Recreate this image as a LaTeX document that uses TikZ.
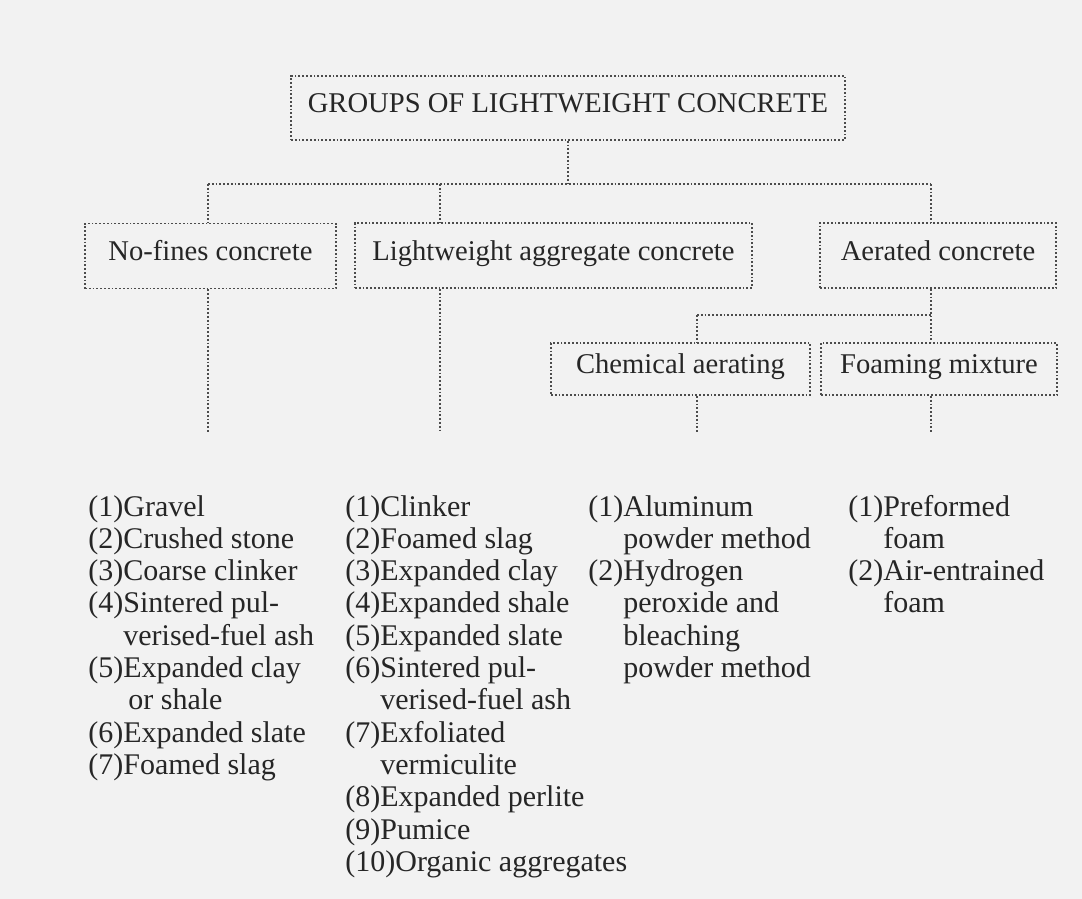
\documentclass[tikz,border=0pt]{standalone}
\usepackage{fontspec}
\setmainfont{Liberation Serif}
\usetikzlibrary{calc}

\begin{document}
\begin{tikzpicture}[x=0.5pt,y=-0.5pt,
        box/.style={draw=black!70,densely dotted,line width=0.9pt,inner sep=0pt,text=black!85,text height=0.7em,text depth=0.22em,font=\fontsize{14.3}{16}\selectfont},
        link/.style={draw=black!70,densely dotted,line width=0.9pt},
        items/.style={anchor=base west,align=left,inner sep=0pt,text=black!85,font=\fontsize{15}{16.15}\selectfont}]
        \useasboundingbox[fill=black!5] (0,0) rectangle (1082,899);

        % the boxes
        \node[box,minimum width=277pt,minimum height=32pt] (groups) at (568,108) {GROUPS OF LIGHTWEIGHT CONCRETE};
        \node[box,minimum width=125.5pt,minimum height=32.5pt] (nofines) at (210.5,256) {No-fines concrete};
        \node[box,minimum width=198.5pt,minimum height=32.5pt] (lwa) at (553.5,255.5) {Lightweight aggregate concrete};
        \node[box,minimum width=118pt,minimum height=32.5pt] (aerated) at (938,255.5) {Aerated concrete};
        \node[box,minimum width=129.5pt,minimum height=26pt] (chem) at (680.5,369) {Chemical aerating};
        \node[box,minimum width=118pt,minimum height=26pt] (foam) at (939,369) {Foaming mixture};

        % first level
        \coordinate (hub) at (568,184);
        \coordinate (busL) at (208,184);
        \coordinate (busM) at (440,184);
        \coordinate (busR) at (931,184);
        \path[link] (groups.south) edge (hub);
        \path[link] (busL) edge (busR);
        \path[link] (busL) edge (busL |- nofines.north);
        \path[link] (busM) edge (busM |- lwa.north);
        \path[link] (busR) edge (busR |- aerated.north);

        % aerated concrete
        \coordinate (subL) at (697,315);
        \path[link] (busR |- aerated.south) edge (busR |- foam.north);
        \path[link] (subL) edge (busR |- subL);
        \path[link] (subL) edge (subL |- chem.north);

        % loose ends
        \foreach \n/\x in {nofines/208,lwa/440,chem/697,foam/931}{
          \coordinate (\n-end) at (\x,433);
          \draw[link] (\n-end |- \n.south) -- (\n-end);
        }

        % the lists (base = last line, first line at y=516)
        \node[items] (list-nofines) at (88,774.4) {(1)Gravel\\(2)Crushed stone\\(3)Coarse clinker\\(4)Sintered pul-\\\phantom{(4)}verised-fuel ash\\(5)Expanded clay\\\phantom{(5)\,}or shale\\(6)Expanded slate\\(7)Foamed slag};
        \node[items] (list-lwa) at (345,871.3) {(1)Clinker\\(2)Foamed slag\\(3)Expanded clay\\(4)Expanded shale\\(5)Expanded slate\\(6)Sintered pul-\\\phantom{(6)}verised-fuel ash\\(7)Exfoliated\\\phantom{(7)}vermiculite\\(8)Expanded perlite\\(9)Pumice\\(10)Organic aggregates};
        \node[items] (list-chem) at (588,677.5) {(1)Aluminum\\\phantom{(1)}powder method\\(2)Hydrogen\\\phantom{(2)}peroxide and\\\phantom{(2)}bleaching\\\phantom{(2)}powder method};
        \node[items] (list-foam) at (848,612.9) {(1)Preformed\\\phantom{(1)}foam\\(2)Air-entrained\\\phantom{(2)}foam};
      \end{tikzpicture}
\end{document}
